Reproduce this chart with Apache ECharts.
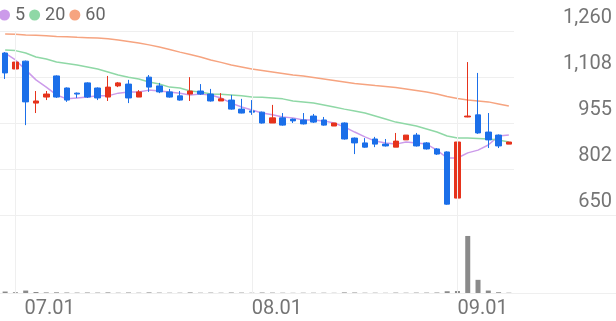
<!DOCTYPE html>
<html>
<head>
<meta charset="utf-8">
<script src="https://cdn.jsdelivr.net/npm/echarts@6/dist/echarts.min.js"></script>
<style>
html,body{margin:0;padding:0;background:#fff;}
#chart{width:616px;height:321px;}
</style>
</head>
<body>
<div id="chart"></div>
<script>
const dates = ['06.30',
'07.01','07.02','07.03','07.04','07.07','07.08','07.09','07.10','07.11','07.14','07.15','07.16','07.17','07.18','07.21','07.22','07.23','07.24','07.25','07.28','07.29','07.30','07.31',
'08.01','08.04','08.05','08.06','08.07','08.08','08.11','08.12','08.13','08.14','08.18','08.19','08.20','08.21','08.22','08.25','08.26','08.27','08.28','08.29',
'09.01','09.02','09.03','09.04','09.05','09.08'];
const openP  = [1187,1134,1160,1021,1041,1111,1071,1054,1088,1071,1041,1078,1084,1041,1107,1078,1058,1045,1051,1061,1051,1028,1031,1001,995,991,955,972,968,965,978,965,945,955,905,889,902,885,875,899,915,889,869,859,706,975,982,925,915,885];
const closeP = [1121,1157,1025,1028,1051,1041,1031,1051,1041,1038,1074,1088,1038,1058,1074,1058,1041,1031,1061,1051,1028,1035,1001,988,991,955,972,948,962,952,958,948,955,902,889,875,885,879,895,915,879,869,852,686,892,978,922,899,879,892];
const lowP   = [1101,1124,948,988,1031,1038,1025,1038,1038,1031,1028,1074,1021,1041,1058,1054,1039,1029,1028,1048,1026,1028,999,987,982,953,955,946,955,950,955,946,945,900,852,873,875,877,875,899,877,867,849,684,704,974,919,872,872,885];
const highP  = [1190,1190,1162,1061,1061,1113,1073,1056,1090,1073,1111,1091,1098,1064,1114,1088,1068,1061,1107,1084,1068,1054,1048,1035,1031,993,1015,988,970,988,985,975,955,957,907,905,909,902,922,915,922,892,872,861,894,1157,1121,988,917,892];
const ma5  = [1187,1164,1131,1098,1074,1048,1035,1038,1041,1045,1045,1054,1058,1058,1064,1061,1058,1054,1048,1051,1048,1038,1021,1008,998,988,982,975,972,965,965,962,955,942,925,909,895,889,885,892,889,885,865,839,839,856,865,882,912,915];
const ma20 = [1197,1195,1187,1174,1167,1157,1152,1147,1141,1134,1124,1114,1107,1101,1091,1084,1074,1071,1061,1058,1051,1050,1048,1045,1041,1040,1038,1035,1028,1025,1021,1015,1008,1001,995,988,978,968,958,952,945,935,925,912,905,905,904,902,899,892];
const ma60 = [1250,1249,1247,1246,1244,1242,1241,1239,1238,1237,1234,1230,1225,1220,1214,1207,1199,1190,1182,1174,1164,1156,1147,1141,1134,1129,1124,1119,1114,1111,1106,1101,1096,1091,1086,1083,1079,1076,1073,1068,1063,1058,1051,1043,1036,1031,1028,1025,1018,1011];
const volume = [150,80,250,100,60,70,50,40,50,40,60,30,50,30,60,40,30,30,60,30,40,30,50,40,30,50,40,30,20,30,30,30,20,60,50,30,30,20,40,30,40,40,50,180,200,5850,1350,250,80,30];
const xTickLabels = ['07.01','08.01','09.01'];
const yTicks = [650, 802.5, 955, 1107.5, 1260];
const yTickLabels = ['650','802','955','1,108','1,260'];
const maNames = ['5','20','60'];

const RED = '#e6331c', BLUE = '#1b6fe9';
const MA_COLORS = ['#cc9bea','#8fd8a6','#f6a480'];
const GRIDLINE = '#efefef';

const candleData = dates.map((d,i)=>[openP[i], closeP[i], lowP[i], highP[i]]);
const monthLines = xTickLabels.map(l=>({xAxis:l}));
const markLineCfg = {
  silent:true, symbol:['none','none'], animation:false,
  label:{show:false},
  lineStyle:{color:GRIDLINE, width:1, type:'solid'},
  data: monthLines
};

const chart = echarts.init(document.getElementById('chart'), null, {renderer:'canvas'});
chart.setOption({
  animation:false,
  backgroundColor:'#fff',
  legend:{
    data: maNames, left:-1, top:6, padding:0, icon:'circle',
    itemWidth:11, itemHeight:11, itemGap:4,
    textStyle:{color:'#666', fontSize:18, fontFamily:'Roboto'}
  },
  grid:[
    {left:0, right:102, top:31, bottom:106},
    {left:0, right:102, top:215, bottom:28},
    {left:0, right:0, top:215, bottom:28}
  ],
  xAxis:[
    {type:'category', gridIndex:0, data:dates, boundaryGap:true,
     axisLine:{show:false}, axisTick:{show:false}, axisLabel:{show:false}, splitLine:{show:false}},
    {type:'category', gridIndex:1, data:dates, boundaryGap:true,
     axisLine:{show:false}, axisTick:{show:false}, splitLine:{show:false},
     axisLabel:{show:true, align:'left', margin:6, color:'#757575', fontSize:20, fontFamily:'Roboto',
       interval:(idx, val)=>xTickLabels.includes(val),
       formatter:(val)=>val===xTickLabels[0]?'{f|'+val+'}':(xTickLabels.includes(val)?val:''),
       rich:{f:{padding:[0,0,0,9], color:'#757575', fontSize:20, fontFamily:'Roboto'}}}},
    {type:'value', gridIndex:2, show:false}
  ],
  yAxis:[
    {type:'value', gridIndex:0, position:'right', min:650, max:1260, interval:152.5,
     axisLine:{show:false}, axisTick:{show:false},
     splitLine:{show:true, lineStyle:{color:GRIDLINE, width:1}},
     axisLabel:{show:true, align:'right', margin:98, verticalAlign:'bottom', padding:[0,0,3,0],
       color:'#757575', fontSize:20, fontFamily:'Roboto',
       formatter:(v)=>{const k=yTicks.findIndex(t=>Math.abs(t-v)<1);return k>=0?yTickLabels[k]:'';}}},
    {type:'value', gridIndex:1, min:0, max:8000, show:false},
    {type:'value', gridIndex:2, min:0, max:1, interval:1,
     axisLine:{show:false}, axisTick:{show:false}, axisLabel:{show:false},
     splitLine:{show:true, lineStyle:{color:GRIDLINE, width:1}}}
  ],
  series:[
    {type:'candlestick', name:'price', xAxisIndex:0, yAxisIndex:0, data:candleData, barWidth:6,
     itemStyle:{color:RED, color0:BLUE, borderColor:RED, borderColor0:BLUE, borderWidth:1},
     markLine:markLineCfg},
    {type:'line', name:maNames[0], xAxisIndex:0, yAxisIndex:0, data:ma5, showSymbol:false, symbol:'circle',
     lineStyle:{color:MA_COLORS[0], width:1.5}, itemStyle:{color:MA_COLORS[0]}, z:1},
    {type:'line', name:maNames[1], xAxisIndex:0, yAxisIndex:0, data:ma20, showSymbol:false, symbol:'circle',
     lineStyle:{color:MA_COLORS[1], width:1.5}, itemStyle:{color:MA_COLORS[1]}, z:1},
    {type:'line', name:maNames[2], xAxisIndex:0, yAxisIndex:0, data:ma60, showSymbol:false, symbol:'circle',
     lineStyle:{color:MA_COLORS[2], width:1.5}, itemStyle:{color:MA_COLORS[2]}, z:1},
    {type:'bar', name:'volume', xAxisIndex:1, yAxisIndex:1, data:volume, barWidth:5,
     itemStyle:{color:'#8a8a8a'}, markLine:markLineCfg}
  ]
});
</script>
</body>
</html>
